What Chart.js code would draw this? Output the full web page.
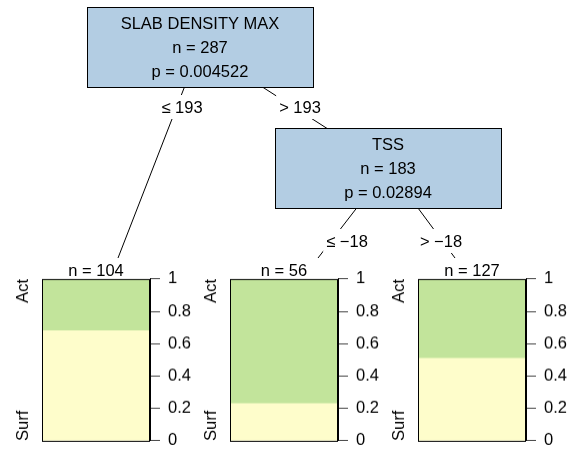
<!DOCTYPE html>
<html>
<head>
<meta charset="utf-8">
<script src="https://cdn.jsdelivr.net/npm/chart.js@4"></script>
<style>
  html, body { margin: 0; padding: 0; background: #fff; overflow: hidden; }
  #wrap { position: relative; width: 570px; height: 450px; overflow: hidden; }
  #wrap canvas { position: absolute; }
</style>
</head>
<body>
<div id="wrap">
  <canvas id="tree" width="570" height="450" style="left:0;top:0"></canvas>
  <canvas id="leaf0"></canvas>
  <canvas id="leaf1"></canvas>
  <canvas id="leaf2"></canvas>
</div>
<script>
// tree data
const splitVars = ['SLAB DENSITY MAX', 'TSS'];
const splitN = [287, 183];
const splitP = [0.004522, 0.02894];
const edgeLabels = ['≤ 193', '> 193', '≤ −18', '> −18'];
const leafN = [104, 56, 127];
const classes = ['Surf', 'Act'];
const surfShare = [0.68, 0.23, 0.51];
const actShare = [0.32, 0.77, 0.49];
const tickStep = 0.2;

// colours + font
const nodeFill = '#B3CDE3';
const classColors = ['#FEFDCB', '#C2E49B'];
const FONT = '"Liberation Sans", Arial, sans-serif';
const FSIZE = 16.5;

// layout, pixel frame of the 570x450 picture
const innerPos = [{x: 200, y: 47}, {x: 388, y: 167.5}];
const boxW = 226, boxH = 80;
const leafLeft = [42, 230, 418];
const leafTop = 279, leafW = 108, leafH = 161;
const leafHook = [{x: 118, y: 258}, {x: 318, y: 258}, {x: 455, y: 258}];
const edgeFrom = [innerPos[0], innerPos[0], innerPos[1], innerPos[1]];
const edgeTo = [leafHook[0], innerPos[1], leafHook[1], leafHook[2]];
const labelPos = [{x: 182, y: 113}, {x: 300, y: 113}, {x: 347, y: 247}, {x: 441, y: 247}];

const edgeSets = edgeFrom.map((a, i) => ({
  data: [{x: a.x, y: a.y}, {x: edgeTo[i].x, y: edgeTo[i].y}],
  showLine: true,
  borderColor: '#000',
  borderWidth: 1,
  pointRadius: 0
}));

const treePlugin = {
  id: 'treeNodes',
  afterDatasetsDraw(chart) {
    const ctx = chart.ctx;
    const sx = chart.scales.x, sy = chart.scales.y;
    const px = v => sx.getPixelForValue(v);
    const py = v => sy.getPixelForValue(v);
    ctx.save();
    ctx.font = FSIZE + 'px ' + FONT;
    ctx.textAlign = 'center';
    ctx.textBaseline = 'alphabetic';

    // split labels on the edges
    edgeLabels.forEach((lab, i) => {
      const x = px(labelPos[i].x), y = py(labelPos[i].y);
      const w = ctx.measureText(lab).width + 6;
      ctx.fillStyle = '#fff';
      ctx.fillRect(x - w / 2, y - 18, w, 24);
      ctx.fillStyle = '#000';
      ctx.fillText(lab, x, y);
    });

    // inner nodes
    splitVars.forEach((v, i) => {
      const cx = px(innerPos[i].x), cy = py(innerPos[i].y);
      const l = Math.round(cx - boxW / 2) + 0.5, t = Math.round(cy - boxH / 2) + 0.5;
      ctx.fillStyle = nodeFill;
      ctx.fillRect(l, t, boxW, boxH);
      ctx.strokeStyle = '#000';
      ctx.lineWidth = 1;
      ctx.strokeRect(l, t, boxW, boxH);
      ctx.fillStyle = '#000';
      ctx.fillText(v, cx, t + 21.5);
      ctx.fillText('n = ' + splitN[i], cx, t + 45.5);
      ctx.fillText('p = ' + splitP[i], cx, t + 69.5);
    });

    // leaf headers
    leafN.forEach((n, i) => {
      const cx = px(leafLeft[i] + leafW / 2);
      const lab = 'n = ' + n;
      const w = ctx.measureText(lab).width + 6;
      ctx.fillStyle = '#fff';
      ctx.fillRect(cx - w / 2, py(258), w, py(leafTop) - py(258));
      ctx.fillStyle = '#000';
      ctx.fillText(lab, cx, py(276));
    });
    ctx.restore();
  }
};

new Chart(document.getElementById('tree'), {
  type: 'scatter',
  data: {datasets: edgeSets},
  options: {
    responsive: false,
    devicePixelRatio: 1,
    animation: false,
    layout: {padding: 0},
    plugins: {legend: {display: false}, tooltip: {enabled: false}},
    scales: {
      x: {type: 'linear', min: 0, max: 570, display: false},
      y: {type: 'linear', min: 0, max: 450, reverse: true, display: false}
    }
  },
  plugins: [treePlugin]
});

// terminal node bar panels
const leafPlugin = {
  id: 'leafFrame',
  afterDraw(chart) {
    const ctx = chart.ctx, a = chart.chartArea;
    ctx.save();
    ctx.strokeStyle = '#000';
    ctx.lineWidth = 1;
    ctx.strokeRect(a.left + 0.5, a.top + 0.5, a.right - a.left - 1, a.bottom - a.top);
    ctx.fillStyle = '#000';
    ctx.font = FSIZE + 'px ' + FONT;
    ctx.textBaseline = 'alphabetic';
    ctx.translate(a.left - 14, 0);
    ctx.rotate(-Math.PI / 2);
    ctx.textAlign = 'right';
    ctx.fillText(classes[1], -a.top, 0);
    ctx.textAlign = 'left';
    ctx.fillText(classes[0], -a.bottom, 0);
    ctx.restore();
  }
};

leafN.forEach((n, i) => {
  const cv = document.getElementById('leaf' + i);
  cv.width = 190;
  cv.height = leafH + 24;
  const chart = new Chart(cv, {
    type: 'bar',
    data: {
      labels: [''],
      datasets: [
        {label: classes[0], data: [surfShare[i]], backgroundColor: classColors[0]},
        {label: classes[1], data: [actShare[i]], backgroundColor: classColors[1]}
      ]
    },
    options: {
      responsive: false,
      maintainAspectRatio: false,
      devicePixelRatio: 1,
      animation: false,
      barPercentage: 1,
      categoryPercentage: 1,
      layout: {padding: {left: 30, top: 4, bottom: 4, right: 0}},
      plugins: {legend: {display: false}, tooltip: {enabled: false}},
      scales: {
        x: {stacked: true, display: false},
        y: {
          stacked: true,
          position: 'right',
          min: 0,
          max: 1,
          afterFit: s => { s.width = 52; },
          border: {color: '#000', width: 1},
          grid: {drawOnChartArea: false, tickLength: 10, tickColor: '#444'},
          ticks: {
            stepSize: tickStep,
            padding: 8,
            color: '#000',
            font: {size: FSIZE, family: FONT},
            callback: v => String(+v.toFixed(1))
          }
        }
      }
    },
    plugins: [leafPlugin]
  });
  // size the canvas so the plot area matches the panel box
  let a = chart.chartArea;
  const w = cv.width + leafW - (a.right - a.left);
  const h = cv.height + leafH - (a.bottom - a.top);
  chart.resize(w, h);
  chart.update('none');
  a = chart.chartArea;
  cv.style.left = (leafLeft[i] - a.left) + 'px';
  cv.style.top = (leafTop - a.top) + 'px';
});
</script>
</body>
</html>
